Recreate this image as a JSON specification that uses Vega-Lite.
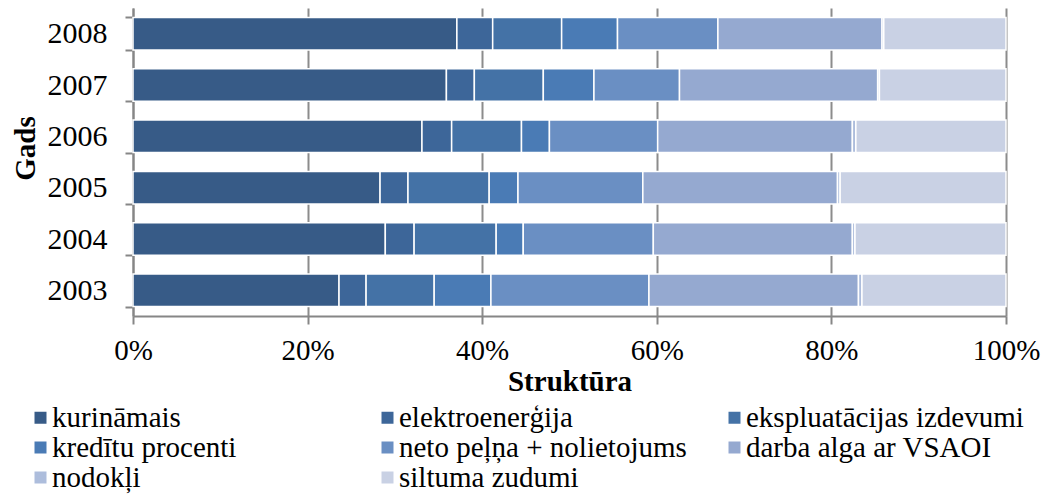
{
  "$schema": "https://vega.github.io/schema/vega-lite/v6.json",
  "autosize": "none",
  "width": 873,
  "height": 308,
  "padding": {"left": 133, "top": 8, "right": 41, "bottom": 178},
  "background": "white",
  "config": {
    "font": "Liberation Serif",
    "view": {"stroke": null}
  },
  "data": {
    "values": [
      {"year": "2008", "cat": "kurināmais", "idx": 1, "v": 37.1},
      {"year": "2008", "cat": "elektroenerģija", "idx": 2, "v": 4.1},
      {"year": "2008", "cat": "ekspluatācijas izdevumi", "idx": 3, "v": 7.9},
      {"year": "2008", "cat": "kredītu procenti", "idx": 4, "v": 6.4},
      {"year": "2008", "cat": "neto peļņa + nolietojums", "idx": 5, "v": 11.5},
      {"year": "2008", "cat": "darba alga ar VSAOI", "idx": 6, "v": 18.8},
      {"year": "2008", "cat": "nodokļi", "idx": 7, "v": 0.2},
      {"year": "2008", "cat": "siltuma zudumi", "idx": 8, "v": 14.0},
      {"year": "2007", "cat": "kurināmais", "idx": 1, "v": 35.9},
      {"year": "2007", "cat": "elektroenerģija", "idx": 2, "v": 3.2},
      {"year": "2007", "cat": "ekspluatācijas izdevumi", "idx": 3, "v": 7.9},
      {"year": "2007", "cat": "kredītu procenti", "idx": 4, "v": 5.8},
      {"year": "2007", "cat": "neto peļņa + nolietojums", "idx": 5, "v": 9.8},
      {"year": "2007", "cat": "darba alga ar VSAOI", "idx": 6, "v": 22.7},
      {"year": "2007", "cat": "nodokļi", "idx": 7, "v": 0.2},
      {"year": "2007", "cat": "siltuma zudumi", "idx": 8, "v": 14.5},
      {"year": "2006", "cat": "kurināmais", "idx": 1, "v": 33.1},
      {"year": "2006", "cat": "elektroenerģija", "idx": 2, "v": 3.4},
      {"year": "2006", "cat": "ekspluatācijas izdevumi", "idx": 3, "v": 8.0},
      {"year": "2006", "cat": "kredītu procenti", "idx": 4, "v": 3.2},
      {"year": "2006", "cat": "neto peļņa + nolietojums", "idx": 5, "v": 12.4},
      {"year": "2006", "cat": "darba alga ar VSAOI", "idx": 6, "v": 22.3},
      {"year": "2006", "cat": "nodokļi", "idx": 7, "v": 0.4},
      {"year": "2006", "cat": "siltuma zudumi", "idx": 8, "v": 17.2},
      {"year": "2005", "cat": "kurināmais", "idx": 1, "v": 28.3},
      {"year": "2005", "cat": "elektroenerģija", "idx": 2, "v": 3.2},
      {"year": "2005", "cat": "ekspluatācijas izdevumi", "idx": 3, "v": 9.3},
      {"year": "2005", "cat": "kredītu procenti", "idx": 4, "v": 3.3},
      {"year": "2005", "cat": "neto peļņa + nolietojums", "idx": 5, "v": 14.3},
      {"year": "2005", "cat": "darba alga ar VSAOI", "idx": 6, "v": 22.3},
      {"year": "2005", "cat": "nodokļi", "idx": 7, "v": 0.3},
      {"year": "2005", "cat": "siltuma zudumi", "idx": 8, "v": 19.0},
      {"year": "2004", "cat": "kurināmais", "idx": 1, "v": 28.9},
      {"year": "2004", "cat": "elektroenerģija", "idx": 2, "v": 3.3},
      {"year": "2004", "cat": "ekspluatācijas izdevumi", "idx": 3, "v": 9.4},
      {"year": "2004", "cat": "kredītu procenti", "idx": 4, "v": 3.1},
      {"year": "2004", "cat": "neto peļņa + nolietojums", "idx": 5, "v": 14.9},
      {"year": "2004", "cat": "darba alga ar VSAOI", "idx": 6, "v": 22.8},
      {"year": "2004", "cat": "nodokļi", "idx": 7, "v": 0.3},
      {"year": "2004", "cat": "siltuma zudumi", "idx": 8, "v": 17.3},
      {"year": "2003", "cat": "kurināmais", "idx": 1, "v": 23.6},
      {"year": "2003", "cat": "elektroenerģija", "idx": 2, "v": 3.1},
      {"year": "2003", "cat": "ekspluatācijas izdevumi", "idx": 3, "v": 7.8},
      {"year": "2003", "cat": "kredītu procenti", "idx": 4, "v": 6.5},
      {"year": "2003", "cat": "neto peļņa + nolietojums", "idx": 5, "v": 18.1},
      {"year": "2003", "cat": "darba alga ar VSAOI", "idx": 6, "v": 24.0},
      {"year": "2003", "cat": "nodokļi", "idx": 7, "v": 0.4},
      {"year": "2003", "cat": "siltuma zudumi", "idx": 8, "v": 16.5}
    ]
  },
  "mark": {"type": "bar", "stroke": "white", "strokeWidth": 1.5},
  "encoding": {
    "y": {
      "field": "year",
      "type": "nominal",
      "sort": "descending",
      "scale": {"paddingInner": 0.366, "paddingOuter": 0.183},
      "axis": {
        "title": "Gads",
        "titleFontSize": 29,
        "titleFontWeight": "bold",
        "titleColor": "black",
        "titlePadding": 7,
        "titleY": 140,
        "labelFontSize": 30,
        "labelColor": "black",
        "labelPadding": 18,
        "tickBand": "extent",
        "tickSize": 8,
        "tickColor": "#868686",
        "tickWidth": 2,
        "domainColor": "#868686",
        "domainWidth": 2,
        "grid": false
      }
    },
    "x": {
      "field": "v",
      "type": "quantitative",
      "stack": "normalize",
      "scale": {"domain": [0, 1]},
      "axis": {
        "title": "Struktūra",
        "titleFontSize": 29,
        "titleFontWeight": "bold",
        "titleColor": "black",
        "titlePadding": 2,
        "format": ".0%",
        "values": [0, 0.2, 0.4, 0.6, 0.8, 1],
        "labelFontSize": 29,
        "labelColor": "black",
        "labelPadding": 12,
        "labelFlush": false,
        "tickSize": 8,
        "tickColor": "#868686",
        "tickWidth": 2,
        "domainColor": "#868686",
        "domainWidth": 2,
        "grid": true,
        "gridColor": "#8c8c8c",
        "gridWidth": 2
      }
    },
    "color": {
      "field": "cat",
      "type": "nominal",
      "scale": {
        "domain": ["kurināmais", "elektroenerģija", "ekspluatācijas izdevumi", "kredītu procenti", "neto peļņa + nolietojums", "darba alga ar VSAOI", "nodokļi", "siltuma zudumi"],
        "range": ["#375B87", "#3D6699", "#4472A6", "#4A7BB5", "#6A8FC3", "#95A9D0", "#ADBDDC", "#C9D1E4"]
      },
      "legend": {
        "title": null,
        "orient": "none",
        "legendX": -107,
        "legendY": 395,
        "direction": "horizontal",
        "columns": 3,
        "gridAlign": "all",
        "columnPadding": 33,
        "rowPadding": -3.5,
        "symbolType": "square",
        "symbolSize": 144,
        "symbolStrokeWidth": 0,
        "labelFontSize": 29,
        "labelColor": "black",
        "labelOffset": -3,
        "labelLimit": 500
      }
    },
    "order": {"field": "idx", "type": "quantitative"}
  }
}
